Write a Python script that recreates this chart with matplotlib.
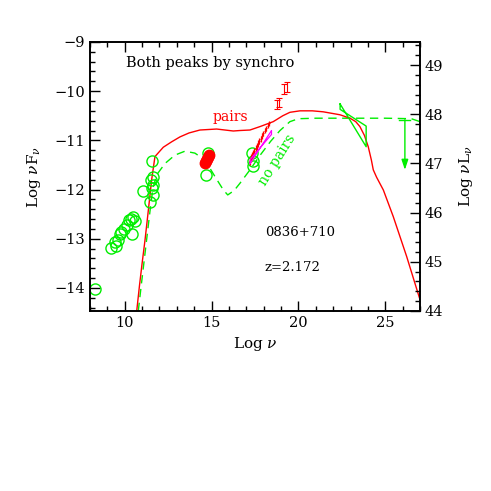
import numpy as np
import matplotlib
matplotlib.use("Agg")
import matplotlib.pyplot as plt
from matplotlib.ticker import MultipleLocator

plt.rcParams["font.family"] = "DejaVu Serif"
plt.rcParams["mathtext.fontset"] = "dejavuserif"

# radio-to-optical archival points (open green circles)
radio_x = [8.29, 9.19, 9.48, 9.44, 9.63, 9.71, 9.78, 9.98, 10.11, 10.26, 10.36,
           10.49, 10.59, 10.40, 11.07, 11.55, 11.61, 11.49, 11.65, 11.65, 11.47,
           11.55, 14.68, 14.81, 17.31, 17.36, 17.40]
radio_y = [-14.02, -13.19, -13.15, -13.06, -13.02, -12.91, -12.86, -12.81, -12.72,
           -12.62, -12.60, -12.56, -12.65, -12.91, -12.04, -11.43, -11.74, -11.80,
           -11.91, -12.11, -12.25, -11.97, -11.70, -11.26, -11.26, -11.43, -11.53]

# simultaneous optical points (filled red)
opt_x = [14.64, 14.70, 14.76, 14.82, 14.88]
opt_y = [-11.46, -11.42, -11.37, -11.33, -11.29]

# X-ray spectrum points with error bars
xr_x = [17.22, 17.28, 17.34, 17.40, 17.47, 17.54, 17.61, 17.68, 17.75, 17.82,
        17.90, 17.98, 18.06, 18.14, 18.22, 18.30]
xr_y = [-11.42, -11.36, -11.31, -11.27, -11.22, -11.17, -11.12, -11.07, -11.02,
        -10.97, -10.92, -10.86, -10.80, -10.75, -10.70, -10.65]
xr_ye = [0.09, 0.08, 0.08, 0.08, 0.07, 0.07, 0.07, 0.07, 0.06, 0.06, 0.06, 0.06,
         0.06, 0.05, 0.05, 0.05]

# hard X-ray points
hx_x = [18.75, 18.90, 19.19, 19.32]
hx_y = [-10.27, -10.23, -9.96, -9.92]
hx_ye = [0.09, 0.09, 0.10, 0.10]

# magenta X-ray bowtie
mag_x = [17.22, 18.45, 18.45, 17.22]
mag_y = [-11.47, -10.80, -10.88, -11.39]

# gamma-ray bowtie
gam_x = [22.40, 23.90, 23.90, 22.40, 22.40]
gam_y = [-10.26, -11.13, -10.71, -10.37, -10.26]

# upper limit
ul_x = [25.80, 26.45]
ul_y = -10.58
ul_arrow_x = 26.13
ul_arrow_y = -11.60

# model with pairs (solid red)
pairs_x = [10.69, 10.85, 11.0, 11.17, 11.35, 11.55, 11.74, 12.22, 12.70, 13.18, 13.70,
           14.33, 15.29, 16.25, 16.64, 17.21, 17.79, 18.55, 19.10, 19.51, 20.09, 20.80,
           21.43, 22.39, 22.97, 23.30, 23.54, 23.80, 24.02, 24.20, 24.31, 24.50,
           24.89, 25.46, 26.23, 27.0]
pairs_y = [-14.47, -13.95, -13.50, -13.02, -12.45, -11.80, -11.33, -11.14, -11.03,
           -10.93, -10.85, -10.79, -10.77, -10.81, -10.80, -10.79, -10.72, -10.62,
           -10.50, -10.43, -10.40, -10.40, -10.42, -10.48, -10.55, -10.62, -10.72,
           -10.90, -11.13, -11.40, -11.60, -11.75, -12.01, -12.55, -13.36, -14.24]

# model without pairs (dashed green)
nopairs_x = [10.78, 10.95, 11.10, 11.26, 11.45, 11.62, 11.84, 12.32, 12.89, 13.47,
             14.04, 14.62, 15.20, 15.68, 15.93, 16.30, 16.64, 17.21, 17.80, 18.40,
             18.94, 19.51, 20.00, 21.0, 25.0, 26.5, 27.0]
nopairs_y = [-14.47, -13.95, -13.50, -13.02, -12.45, -11.98, -11.70, -11.47, -11.30,
             -11.22, -11.26, -11.40, -11.74, -12.01, -12.11, -12.02, -11.87, -11.60,
             -11.30, -11.02, -10.80, -10.62, -10.56, -10.55, -10.55, -10.56, -10.62]

x_lim = (8.0, 27.0)
y_lim = (-14.47, -9.0)
lum_offset = 58.47

GREEN = "#00ee00"
RED = "#ff0000"

fig = plt.figure(figsize=(4.91, 4.91), dpi=100)
ax = fig.add_axes([0.1833, 0.3666, 0.6721, 0.5479])

ax.plot(nopairs_x, nopairs_y, color=GREEN, lw=1.0, ls=(0, (6, 4)))
ax.plot(pairs_x, pairs_y, color=RED, lw=1.0)

ax.plot(radio_x, radio_y, ls="none", marker="o", ms=8, mfc="none", mec=GREEN, mew=1.0)
ax.plot(opt_x, opt_y, ls="none", marker="o", ms=7.5, color=RED)

ax.errorbar(xr_x, xr_y, yerr=xr_ye, xerr=0.05, fmt="none", ecolor=RED, elinewidth=0.9)
ax.errorbar(hx_x, hx_y, yerr=hx_ye, fmt="none", ecolor=RED, elinewidth=0.8,
            capsize=2, capthick=0.8)
ax.plot(mag_x + [mag_x[0]], mag_y + [mag_y[0]], color="#ff00ff", lw=0.9)

ax.plot(gam_x, gam_y, color=GREEN, lw=1.0)
ax.plot(ul_x, [ul_y, ul_y], color=GREEN, lw=1.0)
ax.annotate("", xy=(ul_arrow_x, ul_arrow_y), xytext=(ul_arrow_x, ul_y),
            arrowprops=dict(arrowstyle="-|>,head_length=0.6,head_width=0.2",
                            color=GREEN, lw=1.0, shrinkA=0, shrinkB=0))

ax.set_xlim(*x_lim)
ax.set_ylim(*y_lim)
ax.xaxis.set_major_locator(MultipleLocator(5))
ax.xaxis.set_minor_locator(MultipleLocator(1))
ax.yaxis.set_major_locator(MultipleLocator(1))
ax.yaxis.set_minor_locator(MultipleLocator(0.2))
ax.tick_params(which="both", direction="in", top=True, right=False, labelsize=10.5)
ax.tick_params(which="major", length=7, width=1.0)
ax.tick_params(which="minor", length=3.5, width=1.0)

ax2 = ax.twinx()
ax2.set_ylim(y_lim[0] + lum_offset, y_lim[1] + lum_offset)
ax2.yaxis.set_major_locator(MultipleLocator(1))
ax2.yaxis.set_minor_locator(MultipleLocator(0.2))
ax2.tick_params(which="both", direction="in", labelsize=10.5)
ax2.tick_params(which="major", length=7, width=1.0)
ax2.tick_params(which="minor", length=3.5, width=1.0)

for a in (ax, ax2):
    for s in a.spines.values():
        s.set_linewidth(1.2)

ax.set_xlabel(r"Log $\nu$", fontsize=11)
ax.set_ylabel(r"Log $\nu$F$_\nu$", fontsize=11, labelpad=8)
ax2.set_ylabel(r"Log $\nu$L$_\nu$", fontsize=11, labelpad=10)

fig.text(126 / 491, 1 - 63 / 491, "Both peaks by synchro", fontsize=10.5, va="center")
ax.text(15.08, -10.52, "pairs", color=RED, fontsize=10, va="center")
ax.text(18.77, -11.40, "no pairs", color=GREEN, fontsize=10, rotation=58,
        ha="center", va="center")
ax.text(18.07, -12.88, "0836+710", fontsize=9.5, va="center")
ax.text(18.07, -13.59, "z=2.172", fontsize=9.5, va="center")

fig.savefig("out.png", dpi=100)
